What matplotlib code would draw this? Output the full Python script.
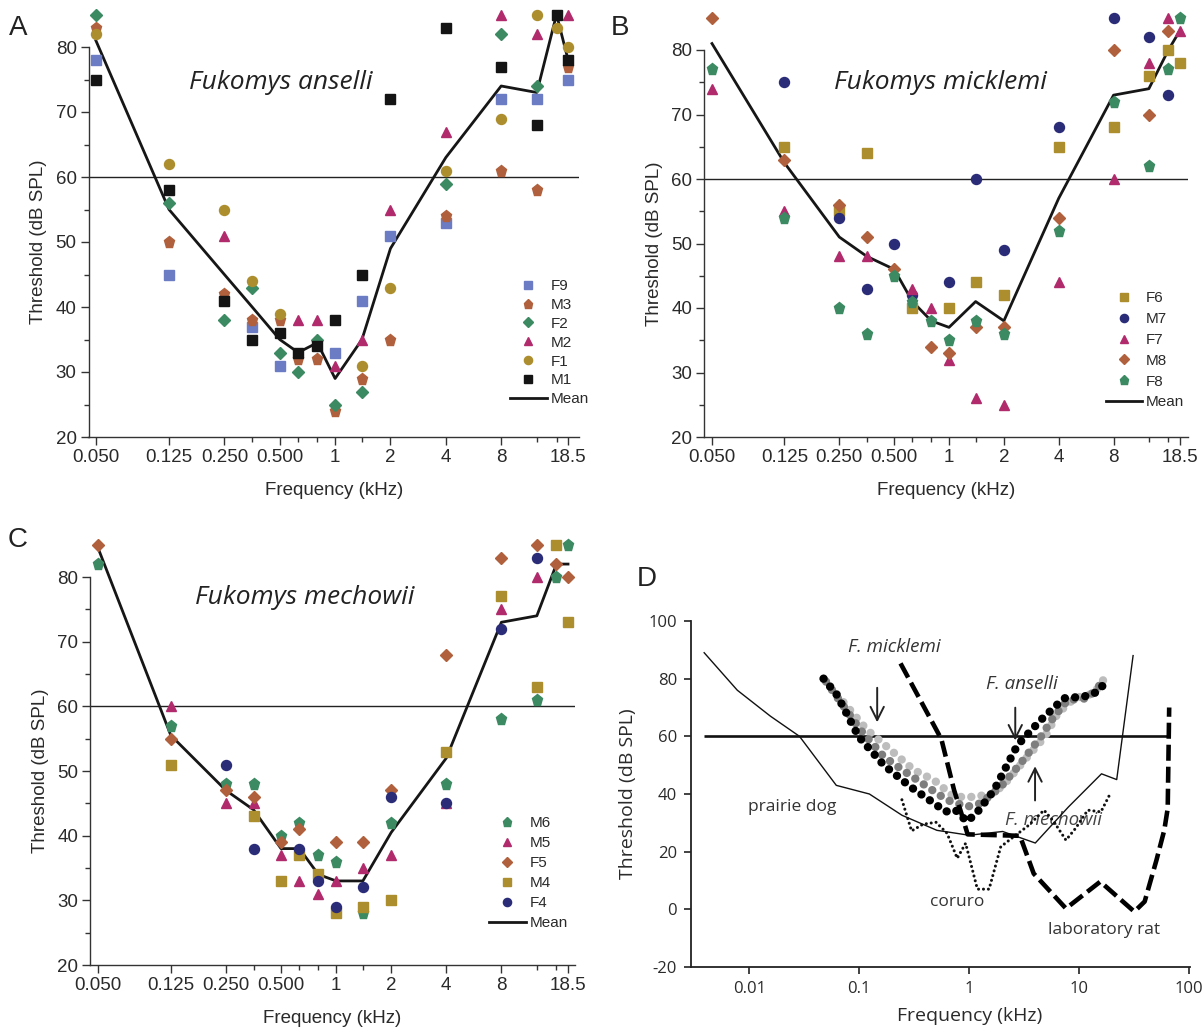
import numpy as np
import matplotlib.pyplot as plt
from matplotlib.ticker import NullFormatter
from matplotlib.lines import Line2D

plt.rcParams['font.family'] = ['Liberation Sans', 'DejaVu Sans']
plt.rcParams['axes.unicode_minus'] = False

# frequencies tested (kHz)
freqs = [0.05, 0.125, 0.25, 0.354, 0.5, 0.63, 0.8, 1, 1.4, 2, 4, 8, 12.5, 16, 18.5]
major_ticks = [0.05, 0.125, 0.25, 0.5, 1, 2, 4, 8, 18.5]
major_labels = ["0.050", "0.125", "0.250", "0.500", "1", "2", "4", "8", "18.5"]
minor_ticks = [0.354, 0.63, 0.8, 1.4, 12.5, 16]
n = None

# A: Fukomys anselli
a_F9 = [78, 45, n, 37, 31, n, n, 33, 41, 51, 53, 72, 72, n, 75]
a_M3 = [83, 50, 42, 38, 38, 32, 32, 24, 29, 35, 54, 61, 58, n, 77]
a_F2 = [85, 56, 38, 43, 33, 30, 35, 25, 27, n, 59, 82, 74, n, n]
a_M2 = [n, n, 51, n, n, 38, 38, 31, 35, 55, 67, 85, 82, n, 85]
a_F1 = [82, 62, 55, 44, 39, n, n, n, 31, 43, 61, 69, 85, 83, 80]
a_M1 = [75, 58, 41, 35, 36, 33, 34, 38, 45, 72, 83, 77, 68, 85, 78]
a_mean = [81, 55, 45, 40, 35, 33, 34.5, 29, 35, 49, 63, 74, 73, 85, 78]

# B: Fukomys micklemi
b_F6 = [n, 65, 55, 64, n, 40, n, 40, 44, 42, 65, 68, 76, 80, 78]
b_M7 = [n, 75, 54, 43, 50, 42, n, 44, 60, 49, 68, 85, 82, 73, n]
b_F7 = [74, 55, 48, 48, n, 43, 40, 32, 26, 25, 44, 60, 78, 85, 83]
b_M8 = [85, 63, 56, 51, 46, n, 34, 33, 37, 37, 54, 80, 70, 83, n]
b_F8 = [77, 54, 40, 36, 45, 41, 38, 35, 38, 36, 52, 72, 62, 77, 85]
b_mean = [81, 62.5, 51, 48, 46, 41, 38, 37, 41, 38, 57, 73, 74, 80, 83]

# C: Fukomys mechowii
c_M6 = [82, 57, 48, 48, 40, 42, 37, 36, 28, 42, 48, 58, 61, 80, 85]
c_M5 = [n, 60, 45, 45, 37, 33, 31, 33, 35, 37, 45, 75, 80, n, n]
c_F5 = [85, 55, 47, 46, 39, 41, n, 39, 39, 47, 68, 83, 85, 82, 80]
c_M4 = [n, 51, n, 43, 33, 37, 34, 28, 29, 30, 53, 77, 63, 85, 73]
c_F4 = [n, n, 51, 38, n, 38, 33, 29, 32, 46, 45, 72, 83, n, n]
c_mean = [84.5, 55.5, 47, 44, 38, 38, 34, 33, 33, 40.5, 52, 73, 74, 82, 82]

# D: comparison audiograms
ans_f = [0.0475, 0.063, 0.099, 0.168, 0.293, 0.48, 0.61, 0.75, 0.95, 1.15, 1.69, 2.76, 4.5, 7.3, 11.1, 14.9, 17.9]
ans_db = [80, 74.3, 59.9, 50, 42.5, 36.8, 33.9, 34.5, 30.5, 33, 41.4, 57, 65.7, 73.2, 73.8, 75.5, 79.5]
mid_f = [0.05, 0.103, 0.168, 0.274, 0.417, 0.63, 0.96, 1.28, 1.94, 2.94, 4.5, 5.9, 7.9, 12.0, 17.0]
mid_db = [79, 62.2, 52.9, 47.2, 42.5, 37.9, 35.6, 36.8, 42.5, 50.6, 59.9, 66.8, 72.6, 73.2, 79.5]
light_f = [0.0475, 0.118, 0.146, 0.193, 0.315, 0.48, 0.73, 1.11, 1.69, 2.25, 3.2, 4.9, 6.4, 9.1, 13.7, 17.0]
light_db = [80, 62.2, 59.3, 55.3, 48.3, 44.8, 39, 39, 40.2, 44.8, 51.8, 59.9, 68, 73.2, 74.9, 80.1]
prairie_f = [0.0039, 0.0078, 0.0156, 0.0287, 0.062, 0.124, 0.246, 0.51, 1.0, 2.02, 4.0, 8.0, 16.0, 22.0, 31.0]
prairie_db = [89, 76, 67, 60, 43, 40, 32.6, 27.4, 25.7, 27, 23, 35.5, 47, 45, 88]
coruro_f = [0.245, 0.30, 0.38, 0.5, 0.63, 0.78, 0.93, 1.19, 1.52, 1.94, 2.55, 3.5, 4.8, 5.9, 7.6, 9.3, 12.0, 15.8, 18.9]
coruro_db = [38, 27.2, 29.5, 30.2, 26.4, 17.7, 22.9, 7.0, 7.0, 21.7, 25.2, 29.2, 34.4, 30.4, 24, 28.1, 34.4, 33.8, 39.6]
rat_f = [0.238, 0.5, 0.56, 0.73, 0.87, 0.97, 2.9, 3.87, 7.6, 15.6, 31.8, 39.5, 50.6, 59.6, 64, 66]
rat_db = [85.3, 62.5, 59, 41.4, 32.1, 26, 25.5, 12.4, 0.3, 9.6, -0.8, 2.7, 17.1, 27.5, 35, 70]
crit_db = 60
crit_range = [0.0039, 67]
arrows = [(0.146, 77.8, 63.9), (2.63, 70.9, 57.6), (3.98, 36.8, 50.6)]

W, H = 1203, 1030
fig = plt.figure(figsize=(W / 100, H / 100), dpi=100)


def px_axes(l, t, r, b):
    return fig.add_axes([l / W, 1 - b / H, (r - l) / W, (b - t) / H])


GRN, MAG, BRN, OLV, NVY, LAV, BLK = '#3b8a62', '#b02a6c', '#b0603c', '#ad8e2e', '#2b2c78', '#6b7cc4', '#141414'
MS = {'s': 6.6, 'p': 8.3, 'D': 6.0, '^': 7.8, 'o': 7.2}
TXT = '#2a2a2a'


def style_abc(ax, xlim):
    ax.set_xscale('log', base=2)
    ax.set_xlim(*xlim)
    ax.set_ylim(20, 80)
    ax.set_xticks(major_ticks)
    ax.set_xticklabels(major_labels)
    ax.set_xticks(minor_ticks, minor=True)
    ax.xaxis.set_minor_formatter(NullFormatter())
    ax.set_yticks(np.arange(20, 81, 10))
    ax.set_yticks(np.arange(25, 80, 10), minor=True)
    for s in ['top', 'right']:
        ax.spines[s].set_visible(False)
    for s in ['left', 'bottom']:
        ax.spines[s].set_linewidth(1.0)
        ax.spines[s].set_color('#333333')
    ax.tick_params(which='major', direction='out', length=5.5, width=1.0, color='#333333',
                   labelsize=13.5, labelcolor=TXT, pad=3)
    ax.tick_params(which='minor', direction='out', length=3.5, width=1.0, color='#333333')
    ax.set_xlabel('Frequency (kHz)', fontsize=13.5, color=TXT, labelpad=12)
    ax.set_ylabel('Threshold (dB SPL)', fontsize=13.5, color=TXT, labelpad=6)
    ax.axhline(60, color='#222222', lw=1.0, zorder=1)


def panel(ax, series, mean, title, tx, ty, leg_xy, spacing):
    ax.plot(freqs, [np.nan if v is None else v for v in mean], color='#161616', lw=2,
            clip_on=False, zorder=3)
    handles, labels = [], []
    for name, vals, mk, col in series:
        y = [np.nan if v is None else v for v in vals]
        ax.plot(freqs, y, ls='none', marker=mk, ms=MS[mk], color=col, mec=col,
                clip_on=False, zorder=4)
        handles.append(Line2D([], [], ls='none', marker=mk, ms=MS[mk] * 0.82, color=col))
        labels.append(name)
    handles.append(Line2D([], [], color='#161616', lw=2))
    labels.append('Mean')
    ax.legend(handles, labels, loc='upper left', bbox_to_anchor=leg_xy, frameon=False,
              fontsize=11, handlelength=2.4, handletextpad=0.25, labelspacing=spacing,
              borderpad=0, borderaxespad=0, labelcolor=TXT)
    ax.text(tx, ty, title, transform=ax.transAxes, ha='center', va='center',
            fontsize=19, style='italic', family=['Open Sans', 'DejaVu Sans'], color='#222222')


axA = px_axes(88.5, 47, 579, 437)
style_abc(axA, (0.0456, 21.2))
panel(axA, [('F9', a_F9, 's', LAV), ('M3', a_M3, 'p', BRN), ('F2', a_F2, 'D', GRN),
            ('M2', a_M2, '^', MAG), ('F1', a_F1, 'o', OLV), ('M1', a_M1, 's', BLK)],
      a_mean, 'Fukomys anselli', 0.392, 0.91, (0.859, 0.405), 0.32)

axB = px_axes(704, 50, 1188, 437)
style_abc(axB, (0.0452, 20.5))
panel(axB, [('F6', b_F6, 's', OLV), ('M7', b_M7, 'o', NVY), ('F7', b_F7, '^', MAG),
            ('M8', b_M8, 'D', BRN), ('F8', b_F8, 'p', GRN)],
      b_mean, 'Fukomys micklemi', 0.488, 0.917, (0.83, 0.377), 0.45)

axC = px_axes(90, 577, 575, 965)
style_abc(axC, (0.0452, 20.2))
panel(axC, [('M6', c_M6, 'p', GRN), ('M5', c_M5, '^', MAG), ('F5', c_F5, 'D', BRN),
            ('M4', c_M4, 's', OLV), ('F4', c_F4, 'o', NVY)],
      c_mean, 'Fukomys mechowii', 0.443, 0.946, (0.823, 0.383), 0.39)

# panel D
axD = px_axes(691, 621, 1189.5, 967)
OS = ['Open Sans', 'DejaVu Sans']
axD.set_xscale('log')
axD.set_xlim(0.00296, 101)
axD.set_ylim(-20, 100)
axD.set_xticks([0.01, 0.1, 1, 10, 100])
axD.set_xticklabels(['0.01', '0.1', '1', '10', '100'])
axD.xaxis.set_minor_locator(plt.NullLocator())
axD.set_yticks(np.arange(-20, 101, 20))
for s in ['top', 'right']:
    axD.spines[s].set_visible(False)
for s in ['left', 'bottom']:
    axD.spines[s].set_linewidth(1.3)
    axD.spines[s].set_color('#222222')
axD.tick_params(direction='out', length=5, width=1.2, color='#222222', labelsize=12,
                labelcolor=TXT, pad=5)
for lab in axD.get_xticklabels() + axD.get_yticklabels():
    lab.set_family(OS)
axD.set_xlabel('Frequency (kHz)', fontsize=14, color=TXT, family=OS, labelpad=6)
axD.xaxis.set_label_coords(0.558, -0.115)
axD.set_ylabel('Threshold (dB SPL)', fontsize=14, color=TXT, family=OS, labelpad=8)

axD.hlines(crit_db, crit_range[0], crit_range[1], color='#111111', lw=1.9, zorder=2)
axD.plot(prairie_f, prairie_db, color='#111111', lw=1.0, zorder=2)
axD.plot(coruro_f, coruro_db, color='#111111', lw=2.2, ls=(0, (0.01, 1.6)),
         dash_capstyle='round', zorder=2)
axD.plot(light_f, light_db, color='#bdbdbd', lw=6.0, ls=(0, (0.01, 1.22)),
         dash_capstyle='round', zorder=3)
axD.plot(mid_f, mid_db, color='#7e7e7e', lw=6.0, ls=(0, (0.01, 1.22)),
         dash_capstyle='round', zorder=3)
axD.plot(ans_f, ans_db, color='#000000', lw=6.0, ls=(0, (0.01, 1.22)),
         dash_capstyle='round', zorder=3)
axD.plot(rat_f, rat_db, color='#000000', lw=3.3, ls=(0, (3.5, 1.3)), zorder=4)

for xf, y0, y1 in arrows:
    axD.annotate('', xy=(xf, y1), xytext=(xf, y0),
                 arrowprops=dict(arrowstyle='->', color='#222222', lw=1.4, mutation_scale=24))

axD.text(0.21, 91, 'F. micklemi', ha='center', va='center', fontsize=13.5, style='italic',
         family=OS, color='#333333')
axD.text(3.04, 78.3, 'F. anselli', ha='center', va='center', fontsize=13.5, style='italic',
         family=OS, color='#333333')
axD.text(5.9, 30.9, 'F. mechowii', ha='center', va='center', fontsize=13.5, style='italic',
         family=OS, color='#444444', zorder=1)
axD.text(0.0244, 35.5, 'prairie dog', ha='center', va='center', fontsize=12.5, family=OS,
         color='#333333')
axD.text(0.78, 2.5, 'coruro', ha='center', va='center', fontsize=12.5, family=OS, color='#333333')
axD.text(16.9, -7.3, 'laboratory rat', ha='center', va='center', fontsize=12.5, family=OS,
         color='#333333')

# panel letters
for letter, x, y in [('A', 9, 15), ('B', 611, 15), ('C', 8, 527), ('D', 637, 566)]:
    fig.text(x / W, 1 - y / H, letter, fontsize=20, va='top', ha='left', color='#222222')

fig.savefig('out.png', dpi=100)
